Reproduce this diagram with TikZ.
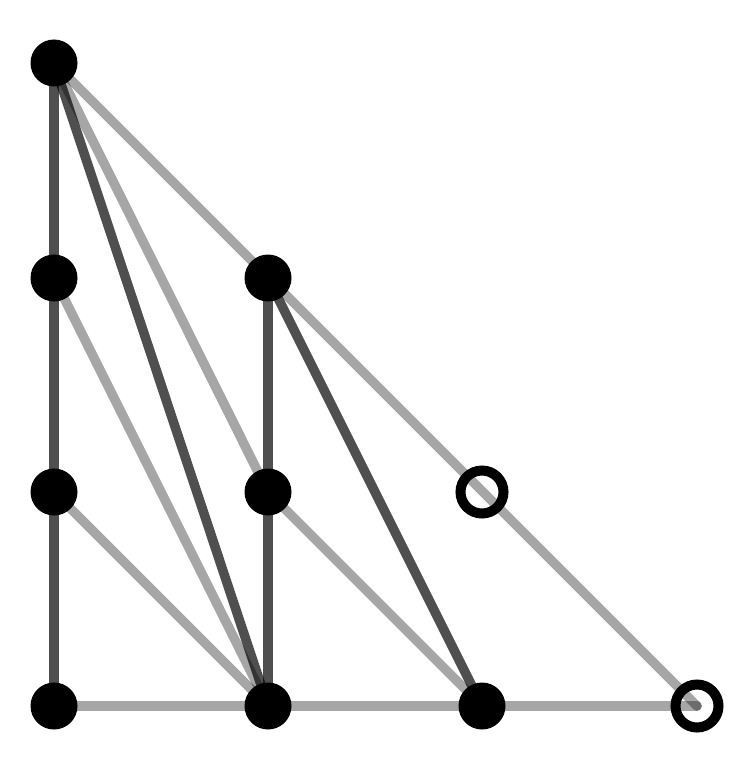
\documentclass[tikz,border=0pt]{standalone}
\begin{document}
\begin{tikzpicture}[x=1pt,y=-1pt,
  darkedge/.style={draw=black,draw opacity=0.69,line width=9.5pt,line cap=round},
  lightedge/.style={draw=black,draw opacity=0.35,line width=9.5pt,line cap=round},
  fulldot/.style={circle,fill=black,inner sep=0pt,minimum size=47pt},
  opendot/.style={circle,draw=black,line width=10pt,inner sep=0pt,minimum size=43pt}]
\useasboundingbox (0,0) rectangle (745,760);
\coordinate (p03) at (54,63);
\coordinate (p02) at (54,278);
\coordinate (p12) at (268,278);
\coordinate (p01) at (54,492);
\coordinate (p11) at (268,492);
\coordinate (p21) at (482,492);
\coordinate (p00) at (54,706);
\coordinate (p10) at (268,706);
\coordinate (p20) at (482,706);
\coordinate (p30) at (697,706);
% light edges
\draw[lightedge] (p03) -- (p30);
\draw[lightedge] (p00) -- (p30);
\draw[lightedge] (p03) -- (p11);
\draw[lightedge] (p11) -- (p20);
\draw[lightedge] (p02) -- (p10);
\draw[lightedge] (p01) -- (p10);
% dark edges
\draw[darkedge] (p03) -- (p00);
\draw[darkedge] (p03) -- (p10);
\draw[darkedge] (p12) -- (p10);
\draw[darkedge] (p12) -- (p20);
% points
\node[fulldot] (n03) at (p03) {};
\node[fulldot] (n02) at (p02) {};
\node[fulldot] (n12) at (p12) {};
\node[fulldot] (n01) at (p01) {};
\node[fulldot] (n11) at (p11) {};
\node[fulldot] (n00) at (p00) {};
\node[fulldot] (n10) at (p10) {};
\node[fulldot] (n20) at (p20) {};
\node[opendot] (n21) at (p21) {};
\node[opendot] (n30) at (p30) {};
\end{tikzpicture}
\end{document}
